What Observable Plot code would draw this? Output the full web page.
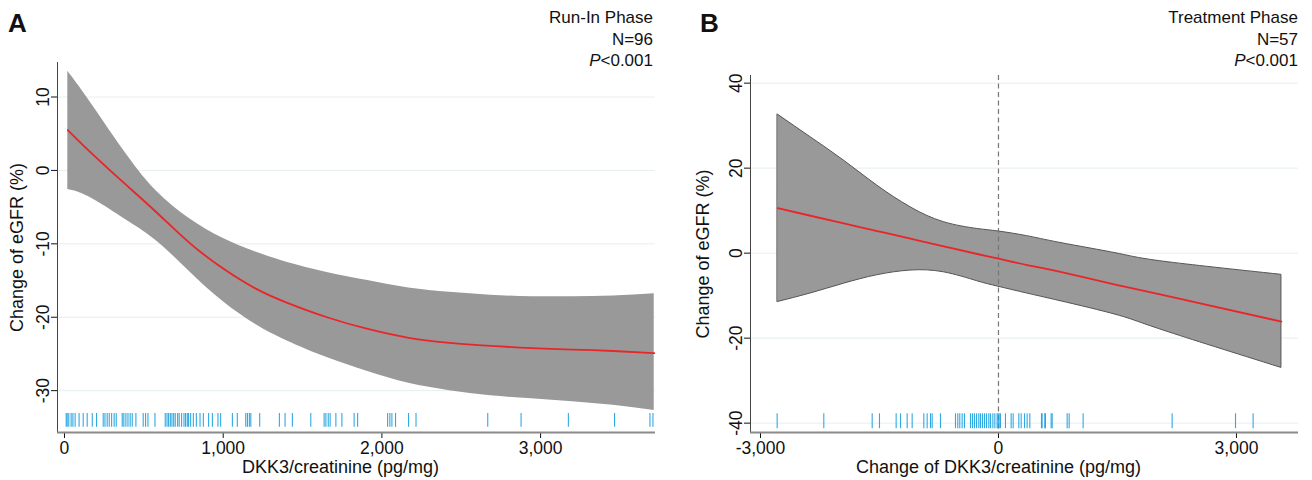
<!DOCTYPE html>
<html><head><meta charset="utf-8">
<script src="https://cdn.jsdelivr.net/npm/d3@7"></script>
<script src="https://cdn.jsdelivr.net/npm/@observablehq/plot@0.6"></script>
<style>
body{margin:0;background:#fff;font-family:"Liberation Sans",Arial,sans-serif;color:#111;}
#wrap{position:relative;width:1312px;height:480px;overflow:hidden;background:#fff;}
.panel{position:absolute;top:0;}
.plabel{position:absolute;top:10px;font-weight:bold;font-size:26px;line-height:26px;}
.head{position:absolute;top:7px;text-align:right;font-size:17px;line-height:21.5px;}
</style></head><body><div id="wrap"></div>
<script>
// ---------- Panel A: Run-In Phase ----------
const titleA = ["Run-In Phase", "N=96", "<0.001"];
const xLabelA = "DKK3/creatinine (pg/mg)";
const yLabel = "Change of eGFR (%)";
const xTicksA = [0, 1000, 2000, 3000];
const yTicksA = [-30, -20, -10, 0, 10];
const xA   = [21, 153, 364, 574, 784, 995, 1205, 1400, 1654, 1911, 2169, 2427, 2685, 2943, 3201, 3458, 3716];
const fitA = [5.5, 2.7, -1.5, -5.6, -9.8, -13.3, -16.1, -18.0, -20.0, -21.6, -22.8, -23.5, -23.9, -24.2, -24.4, -24.6, -24.9];
const hiA  = [13.5, 9.6, 3.0, -2.7, -6.5, -9.2, -11.1, -12.5, -13.9, -15.0, -16.0, -16.6, -17.0, -17.2, -17.2, -17.1, -16.8];
const loA  = [-2.6, -3.6, -6.4, -9.5, -13.7, -17.8, -21.0, -23.2, -25.5, -27.4, -29.0, -30.0, -30.7, -31.1, -31.5, -32.0, -32.7];
const rugA = [11,17,27,42,53,67,92,118,143,175,202,244,255,269,282,297,313,326,364,374,387,400,414,427,450,496,511,526,570,635,
  646,656,667,677,688,698,713,723,738,753,763,774,782,795,812,831,854,875,908,932,967,984,1058,1089,1142,1153,1165,1174,1230,1354,
  1390,1436,1552,1636,1647,1662,1674,1710,1748,1825,1847,2036,2050,2063,2086,2168,2215,2667,2877,3175,3466,3689,3708];

// ---------- Panel B: Treatment Phase ----------
const titleB = ["Treatment Phase", "N=57", "<0.001"];
const xLabelB = "Change of DKK3/creatinine (pg/mg)";
const xTicksB = [-3000, 0, 3000];
const yTicksB = [-40, -20, 0, 20, 40];
const xB   = [-2782, -2370, -1950, -1529, -1109, -690, -268, 0, 362, 782, 1500, 2080, 3567];
const fitB = [10.6, 8.8, 7.0, 5.2, 3.4, 1.6, -0.2, -1.3, -2.8, -4.4, -7.5, -9.9, -16.1];
const hiB  = [32.6, 27.3, 21.8, 15.9, 10.8, 7.3, 5.7, 5.1, 4.0, 2.4, -0.1, -2.0, -5.1];
const loB  = [-11.5, -9.5, -7.2, -5.2, -4.1, -4.5, -6.6, -7.9, -9.5, -11.3, -14.6, -18.2, -27.0];
const rugB = [-2790,-2202,-1592,-1500,-1290,-1235,-1151,-1088,-941,-899,-857,-836,-731,-542,-513,-488,-458,-429,-353,-328,
  -303,-277,-248,-227,-202,-176,-151,-122,-101,-71,-46,-17,-4,8,25,88,160,185,256,286,328,361,395,542,550,584,592,664,677,
  866,891,1067,2189,2988,3210];

const FONT = '"Liberation Sans", Arial, sans-serif';
const fmt = d => d3.format(",")(d).replace("\u2212", "-");

function panel({xs, fit, hi, lo, rug, xDomain, yDomain, xTicks, yTicks, rugLevel, xLabel, xLabelDx, yLabelDx,
                width, marginLeft, marginRight, marginTop, bandStroke, zeroLine}) {
  const band = xs.map((x, i) => ({x, fit: fit[i], hi: hi[i], lo: lo[i]}));
  const marks = [
    Plot.ruleY(yTicks, {stroke: "#e6eeef", strokeWidth: 1}),
    Plot.areaY(band, {x: "x", y1: "lo", y2: "hi", fill: "#999999", stroke: bandStroke || "none", strokeWidth: 1, curve: "natural"}),
  ];
  if (zeroLine) marks.push(Plot.ruleX([0], {stroke: "#777", strokeWidth: 1.2, strokeDasharray: "5,3.5"}));
  marks.push(
    Plot.lineY(band, {x: "x", y: "fit", stroke: "#e8262a", strokeWidth: 1.8, curve: "natural"}),
    Plot.ruleX(rug, {x: d => d, y1: rugLevel[0], y2: rugLevel[1], stroke: "#1aa0e0", strokeWidth: 1.1, strokeOpacity: 0.9}),
    Plot.axisX({ticks: xTicks, tickFormat: fmt, tickSize: 6, tickPadding: 3, label: null, fontSize: 17.5}),
    Plot.axisY({ticks: yTicks, tickFormat: fmt, tickRotate: -90, tickSize: 6, tickPadding: 3, label: null, fontSize: 17.5}),
    Plot.ruleX([xDomain[0]], {stroke: "#444", strokeWidth: 1}),
    Plot.ruleY([yDomain[0]], {stroke: "#8a8a8a", strokeWidth: 2}),
    Plot.text([xLabel], {frameAnchor: "bottom", lineAnchor: "middle", textAnchor: "middle", dy: 35, dx: xLabelDx, fontSize: 18}),
    Plot.text([yLabel], {frameAnchor: "left", lineAnchor: "middle", textAnchor: "middle", rotate: -90, dx: yLabelDx, fontSize: 18})
  );
  return Plot.plot({
    width, height: 480, marginLeft, marginRight, marginTop, marginBottom: 48,
    style: {fontFamily: FONT, fontSize: "17.5px", background: "transparent", color: "#111", overflow: "visible"},
    x: {domain: xDomain},
    y: {domain: yDomain},
    marks
  });
}

const wrap = document.getElementById("wrap");
function place(node, left) {
  const d = document.createElement("div");
  d.className = "panel"; d.style.left = left + "px";
  d.appendChild(node); wrap.appendChild(d);
}
place(panel({xs: xA, fit: fitA, hi: hiA, lo: loA, rug: rugA, xDomain: [-44, 3724], yDomain: [-35.7, 14.7],
  xTicks: xTicksA, yTicks: yTicksA, rugLevel: [-33.1, -35.0], xLabel: xLabelA, xLabelDx: -16, yLabelDx: -40,
  width: 660, marginLeft: 57, marginRight: 5, marginTop: 62}), 0);
place(panel({xs: xB, fit: fitB, hi: hiB, lo: loB, rug: rugB, xDomain: [-3126, 3782], yDomain: [-42.2, 41.8],
  xTicks: xTicksB, yTicks: yTicksB, rugLevel: [-37.8, -41.3], xLabel: xLabelB, xLabelDx: -26, yLabelDx: -47,
  width: 652, marginLeft: 90, marginRight: 14, marginTop: 75, bandStroke: "#555", zeroLine: true}), 660);

function label(txt, left) {
  const d = document.createElement("div"); d.className = "plabel"; d.style.left = left + "px"; d.textContent = txt; wrap.appendChild(d);
}
function head(lines, right) {
  const d = document.createElement("div"); d.className = "head"; d.style.right = right + "px";
  d.innerHTML = lines[0] + "<br>" + lines[1] + "<br><i>P</i>" + lines[2].replace("<", "&lt;");
  wrap.appendChild(d);
}
label("A", 8); label("B", 700);
head(titleA, 1312 - 653); head(titleB, 1312 - 1298);
</script></body></html>
